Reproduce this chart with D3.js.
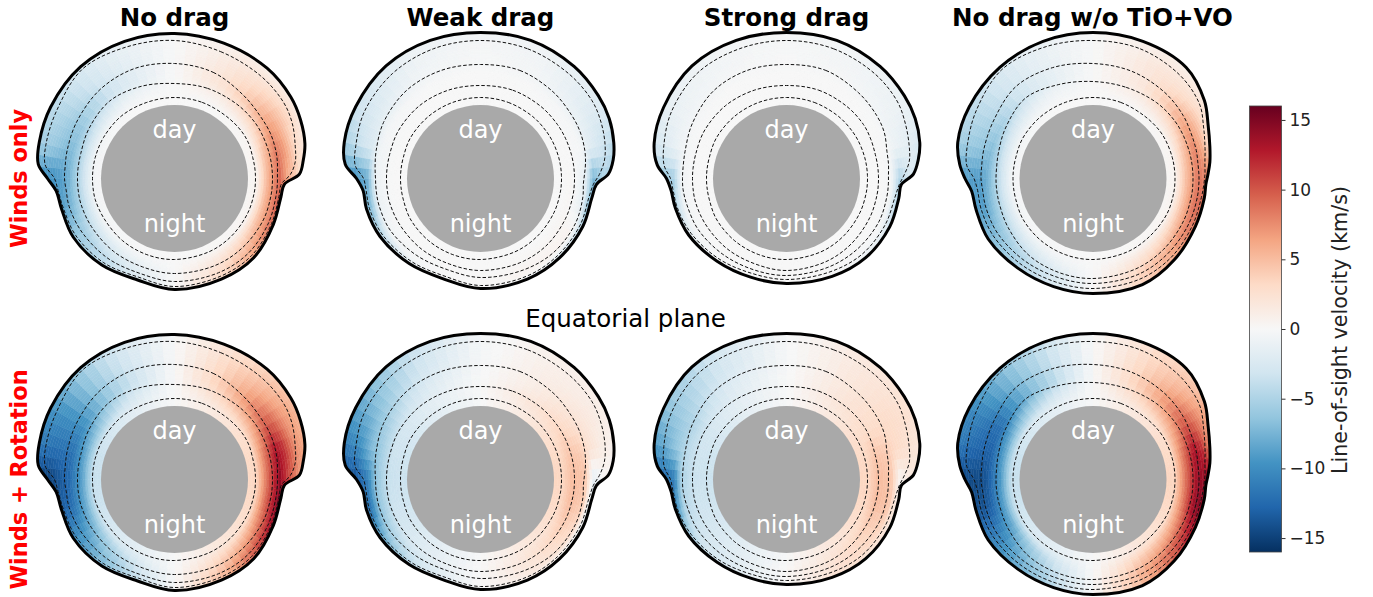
<!DOCTYPE html>
<html><head><meta charset="utf-8">
<script src="https://cdn.jsdelivr.net/npm/d3@7"></script>
<style>html,body{margin:0;padding:0;background:#fff}svg{display:block}text{font-family:"DejaVu Sans",sans-serif}</style>
</head><body><svg id="c" width="1373" height="597"></svg>
<script>
const colTitles=["No drag","Weak drag","Strong drag","No drag w/o TiO+VO"];
const rowTitles=["Winds only","Winds + Rotation"];
const middleTitle="Equatorial plane";
const colorLabel="Line-of-sight velocity (km/s)";
const colorTicks=[-15,-10,-5,0,5,10,15];
const rdbu=["#053061","#2166ac","#4393c3","#92c5de","#d1e5f0","#f7f7f7","#fddbc7","#f4a582","#d6604d","#b2182b","#67001f"];

// curve knots: degrees clockwise from the top of each panel
const curveAngles=[0,20,40,55,65,75,82,88,93,100,115,135,155,180,200,220,240,255,264,270,276,285,300,320,340];
// radial units: planet limb is 73.5
const planetRadius=73.5;
const outerNoDrag=[145,144,144,142,139,135,130,125,110,108,109,112,111,111,108,113,117,117,119,127,137,140,143,146,146];
const c4NoDrag=[138,135,134,133,130,125,122,116,107,106,107,109,108,108,105,110,114,115,117,120,130,133,136,143,140];
const c3NoDrag=[115,113,108,106,106,105,104,103,103,103,104,105,104,103,101,104,107,109,109,110,110,111,113,116,117];
const c2NoDrag=[95,96,97,98,98,98,98,98,98,98,98,97,96,95,94,95,96,97,97,97,97,97,99,101,98];
const c1NoDrag=[81,81,81,82,82,81,81,81,81,81,81,81,81,81,81,81,81,82,82,82,82,82,82,82,81];

const outerWeak=[146,147,146,144,142,138,134,128,116,113,113,112,111,110,107,111,116,118,118,124,136,141,144,147,147];
const c4Weak=[138,138,137,136,133,129,125,119,113,110,110,109,108,107,104,108,113,115,115,117,126,129,134,137,138];
const c3Weak=[114,115,113,111,110,108,106,104,103,104,105,104,101,99,97,100,104,105,105,105,106,108,112,115,115];
const c2Weak=[93,94,94,94,94,94,94,94,94,94,94,94,93,92,91,92,93,94,94,94,94,94,95,95,94];
const c1Weak=[81,81,81,81,81,81,81,81,81,81,81,81,81,81,81,81,81,80,80,80,80,80,81,81,81];

const outerStrong=[146,147,146,144,142,138,133,127,115,114,114,112,108,105,105,108,113,115,116,120,130,137,142,147,147];
const c4Strong=[138,138,137,135,131,127,124,118,113,110,109,107,103,101,101,105,110,113,114,116,123,127,133,138,138];
const c3Strong=[114,115,112,110,108,104,103,102,102,102,102,100,98,97,97,99,102,103,104,104,104,105,109,114,115];
const c2Strong=[93,94,94,94,93,92,92,92,92,92,92,92,92,92,91,92,93,94,94,94,94,94,95,95,94];
const c1Strong=[81,81,81,81,81,81,81,81,81,81,81,81,81,81,81,81,81,80,80,80,80,80,81,81,81];

const outerNoTio=[146,146,145,136,127,121,118,115,113,113,113,115,117,115,115,117,121,121,122,128,134,140,143,145,146];
const c4NoTio=[138,138,135,130,122,116,113,112,111,110,110,111,111,110,110,112,115,116,116,119,127,130,135,142,140];
const c3NoTio=[115,114,112,110,108,107,106,106,106,106,106,106,106,105,105,107,110,111,111,112,112,113,115,120,118];
const c2NoTio=[97,97,99,100,100,100,100,100,100,100,100,100,100,100,100,100,98,97,97,97,97,98,101,105,100];
const c1NoTio=[81,81,81,82,82,82,82,82,82,82,82,81,81,81,81,81,81,80,80,80,80,80,81,81,81];

// velocity readings (km/s): rows by radius, columns by angle
const velocityRadii=[73.5,82,92,105,113,125,148];
const velocityAngles=[0,30,60,75,90,105,120,150,180,210,240,255,270,285,300,330];
const vWindsNoDrag=[
[0,0,.2,.2,.2,.2,.2,.1,0,-.1,-.2,-.2,-.2,-.2,-.2,0],
[0,.1,.3,.4,.4,.4,.4,.2,0,-.2,-.4,-.5,-.5,-.5,-.4,-.1],
[0,1,3,4.5,5,5,4.5,2,0,-1.5,-3,-3.5,-3.5,-3.5,-3,-1],
[0,2.5,6.5,8.5,9.5,9.5,8,3.5,0,-3,-5.5,-7,-7.5,-7,-6,-2.5],
[0,2.5,6,7,6,9.5,8.5,3.5,0,-3,-6,-8.5,-9,-7,-6,-2.5],
[0,2,4,3,3,9,8,3,0,-3,-6.5,-10,-10,-6,-5,-2],
[0,.8,.3,0,0,8,8,3,0,-3,-6.5,-10,-10,-5,-4,-1.5]];
const vWindsWeak=[
[0,0,0,0,0,0,0,0,0,0,0,0,0,0,0,0],
[0,0,0,0,0,0,0,0,0,0,0,0,0,0,0,0],
[0,0,0,0,.2,.2,.3,.2,0,0,0,-.1,-.1,-.1,-.1,0],
[0,-.1,-.3,-.3,-1.5,-1.5,.5,.5,.1,-.2,-.5,-1,-1,-.6,-.4,-.1],
[-.1,-.4,-1.2,-1.8,-7.5,-7.5,-4,-.7,.1,-1.2,-4,-6.5,-8,-2.5,-1.5,-.4],
[-.2,-.5,-2,-3,-5,-8,-6,-2,-.3,-2,-5,-8,-10,-3.5,-2.5,-.7],
[-.3,-.8,-2.2,-5,-8,-8,-6,-2,-.5,-2,-5,-8,-10,-6,-3.5,-1]];
const vWindsStrong=[
[0,0,0,0,0,0,0,0,0,0,0,0,0,0,0,0],
[0,0,0,0,0,0,0,0,0,0,0,0,0,0,0,0],
[0,0,0,0,0,0,0,0,0,0,0,0,0,0,0,0],
[0,0,-.1,-.2,-.3,-.3,-.2,-.1,0,-.1,-.3,-.4,-.5,-.4,-.2,0],
[-.1,-.2,-.6,-1,-5,-4.5,-2,-.4,-.1,-.5,-1.8,-4,-5.5,-1,-.6,-.2],
[-.1,-.4,-.9,-1.5,-2.5,-5,-3,-.8,-.2,-.8,-2,-5,-6,-2,-1,-.4],
[-.2,-.5,-1.2,-3.2,-5,-5,-3,-.8,-.2,-.8,-2,-5,-6,-3.5,-1.5,-.5]];
const vWindsNoTio=[
[0,0,.2,.2,.2,.2,.2,.1,0,-.1,-.2,-.2,-.2,-.2,-.2,0],
[0,.1,.3,.4,.4,.4,.4,.2,0,-.2,-.4,-.5,-.5,-.5,-.4,-.1],
[0,1,2.8,4,4.5,4.5,4,2,0,-1.5,-3,-3.2,-3.2,-3,-2.5,-.8],
[0,2,6.5,8,8.5,9,8,4,0,-3.5,-6,-7,-7.5,-7,-5.5,-2],
[0,2,5.5,6,8,9,8,4,0,-3.5,-7,-9,-9,-6.5,-5,-2],
[0,2,3,1,8,9,8,4,0,-3.5,-7,-9,-9,-6,-4.5,-1.7],
[0,1,.3,0,8,9,8,4,0,-3.5,-7,-9,-9,-5,-4,-1.5]];
const vRotNoDrag=[
[0,1.6,2.7,3.1,3.2,3.1,2.7,1.6,0,-1.7,-3,-3.4,-3.5,-3.4,-3,-1.7],
[0,1.6,2.8,3.3,3.4,3.3,2.8,1.7,0,-1.8,-3.2,-3.6,-3.7,-3.6,-3.2,-1.8],
[0,3,6,8,8.5,8.5,7,3.5,0,-3.5,-7,-8,-8.5,-8,-7,-3],
[0,4.5,10,13.5,14.5,14.5,12,5.5,0,-5,-9.5,-12,-12.5,-12,-10,-4.5],
[0,4.5,9.5,12,11,15,13.5,5.5,0,-5,-10,-13,-13.5,-12,-10,-4.5],
[0,4,7,7.5,7,15,13.5,5.5,0,-5,-10.5,-14,-15,-12,-10,-4],
[0,2.5,4.5,4,4,14,13,5.5,0,-5,-10.5,-14,-15,-11,-9.5,-3.5]];
const vRotWeak=[
[-.1,1.4,2.7,3.2,3.4,3.2,2.7,1.6,0,-1.6,-2.9,-3.3,-3.4,-3.3,-2.9,-1.6],
[-.1,1.4,2.7,3.2,3.4,3.2,2.7,1.6,0,-1.6,-2.9,-3.3,-3.4,-3.3,-2.9,-1.6],
[0,1.8,3.5,4.5,5,5,4,2,.1,-1.6,-3,-3.4,-3.6,-3.4,-3,-1.6],
[-.1,1.2,2.8,4,4.5,4,3,1.7,.1,-2.5,-5.5,-6.5,-6.5,-6,-5,-2.2],
[-.2,1.1,2.2,2.5,-1.5,-2,-1.5,.8,0,-3,-8,-11.5,-11,-7,-6,-2.6],
[-.3,1,1.5,1.3,.2,-3,-3,0,0,-3,-9,-13,-14,-10,-7.5,-3.2],
[-.4,.7,.8,.2,-.5,-4,-4,0,0,-3,-9,-13,-14.5,-11.5,-9,-3.8]];
const vRotStrong=[
[-.1,1.5,2.8,3.2,3.4,3.3,2.8,1.7,0,-1.6,-2.9,-3.3,-3.4,-3.3,-2.9,-1.5],
[-.1,1.5,2.8,3.2,3.4,3.3,2.8,1.7,0,-1.6,-2.9,-3.3,-3.4,-3.3,-2.9,-1.5],
[-.1,1.8,3,4.5,5,5,4,2.2,.2,-1.7,-3,-3.3,-3.4,-3.3,-3,-1.6],
[-.1,1.7,3,4,4.5,4.5,3.5,2.5,.2,-2,-3.5,-4.5,-5,-4.5,-4.5,-2],
[-.2,1.6,3,3.2,.3,1,1.5,2,.1,-2,-5.5,-9.5,-11.5,-6,-5.2,-2.2],
[-.2,1.6,2.8,2.5,1.5,1,1.5,2,.1,-2,-6.5,-11,-13,-8,-6,-2.8],
[-.2,1.5,2.2,1.5,1.2,1,1.5,2,.1,-2,-6.5,-11,-13,-10,-7,-3]];
const vRotNoTio=[
[0,1.6,2.8,3.2,3.5,3.3,2.8,1.7,0,-1.7,-3,-3.5,-3.7,-3.5,-3,-1.7],
[0,1.6,2.8,3.2,3.5,3.3,2.8,1.7,0,-1.7,-3,-3.5,-3.7,-3.5,-3,-1.7],
[0,3,6,8,8.5,8,6.5,4,0,-4,-8,-8.5,-9,-8.5,-7.5,-3.5],
[0,4.5,10,13.5,14,14.5,11.5,6,0,-5.5,-10.5,-13,-13.5,-13,-12,-6],
[0,4.5,9.5,12,14,14.5,13,6,0,-6,-11,-14,-14.5,-13,-12,-6],
[0,4,7,6,14,14.5,13,6,0,-6,-11,-14,-14.5,-12.5,-11,-5.5],
[0,3,4,4,14,14.5,13,6,0,-6,-11,-14,-14.5,-10.5,-10,-5]];

const panelCenters=[174.5,480.5,786.5,1093];
const rowCenters=[178.5,479.5];
const contours=[
 [outerNoDrag,c4NoDrag,c3NoDrag,c2NoDrag,c1NoDrag],
 [outerWeak,c4Weak,c3Weak,c2Weak,c1Weak],
 [outerStrong,c4Strong,c3Strong,c2Strong,c1Strong],
 [outerNoTio,c4NoTio,c3NoTio,c2NoTio,c1NoTio]];
const velocity=[
 [vWindsNoDrag,vWindsWeak,vWindsStrong,vWindsNoTio],
 [vRotNoDrag,vRotWeak,vRotStrong,vRotNoTio]];

const svg=d3.select("#c");
const color=d3.scaleLinear().domain(d3.range(11).map(i=>-16+i*3.2)).range(rdbu).clamp(true);
const rad=d3.scaleLinear().domain([0,147]).range([0,147]);
const ang=d=>d*Math.PI/180;
const radial=d3.lineRadial().angle((d,i)=>ang(curveAngles[i])).radius(d=>rad(d)).curve(d3.curveCatmullRomClosed.alpha(0.5));
const arc=d3.arc();

// smooth shading between the velocity readings, on a 5 degree mesh
const wrapA=velocityAngles.concat(360);
const wedges=d3.range(72).map(i=>i*5);
const rings=d3.range(72,150,2.5);
function shade(table,th,r){
  const byRadius=table.map(row=>d3.scaleLinear().domain(wrapA).range(row.concat(row[0]))(th));
  return d3.scaleLinear().domain(velocityRadii).range(byRadius).clamp(true)(r);
}
rowCenters.forEach((cy,ri)=>panelCenters.forEach((cx,ci)=>{
  const g=svg.append("g").attr("transform",`translate(${cx},${cy})`);
  const [outer,...inner]=contours[ci];
  const id=`clip${ri}${ci}`;
  svg.append("clipPath").attr("id",id).append("path").attr("d",radial(outer));
  const cells=[];
  wedges.forEach(a=>rings.forEach(r=>cells.push({a,r,v:shade(velocity[ri][ci],a+2.5,r+1.25)})));
  g.append("g").attr("clip-path",`url(#${id})`).selectAll("path").data(cells).join("path")
    .attr("d",d=>arc({innerRadius:rad(d.r),outerRadius:rad(d.r+2.5),startAngle:ang(d.a),endAngle:ang(d.a+5)}))
    .attr("fill",d=>color(d.v)).attr("stroke",d=>color(d.v)).attr("stroke-width",0.5);
  g.append("circle").attr("r",rad(planetRadius)).attr("fill","#a9a9a9");
  inner.forEach(c=>g.append("path").attr("d",radial(c)).attr("fill","none").attr("stroke","#111").attr("stroke-width",1).attr("stroke-dasharray","3.5,2"));
  g.append("path").attr("d",radial(outer)).attr("fill","none").attr("stroke","#000").attr("stroke-width",3).attr("stroke-linejoin","round");
  g.append("text").text("day").attr("text-anchor","middle").attr("y",-41).attr("fill","#fff").attr("font-size",24);
  g.append("text").text("night").attr("text-anchor","middle").attr("y",53).attr("fill","#fff").attr("font-size",24);
}));

colTitles.forEach((t,i)=>svg.append("text").text(t).attr("x",[174.5,480.5,786.5,1092.5][i]).attr("y",26).attr("text-anchor","middle").attr("font-weight","bold").attr("font-size",24.5));
rowTitles.forEach((t,i)=>svg.append("text").text(t).attr("transform",`translate(27,${[178.5,479.5][i]}) rotate(-90)`).attr("text-anchor","middle").attr("font-weight","bold").attr("font-size",22.4).attr("fill","#f00"));
svg.append("text").text(middleTitle).attr("x",625.5).attr("y",326.5).attr("text-anchor","middle").attr("font-size",24.5);

// colour bar
const barY=d3.scaleLinear().domain([-16,16]).range([552,106]);
const grad=svg.append("defs").append("linearGradient").attr("id","cb").attr("x1",0).attr("x2",0).attr("y1",1).attr("y2",0);
rdbu.forEach((c,i)=>grad.append("stop").attr("offset",i/10).attr("stop-color",c));
svg.append("rect").attr("x",1249.5).attr("y",106).attr("width",32).attr("height",446).attr("fill","url(#cb)").attr("stroke","#444").attr("stroke-width",0.8);
const axis=d3.axisRight(barY).tickValues(colorTicks).tickSize(4).tickPadding(4).tickFormat(d=>d<0?"\u2212"+Math.abs(d):d);
const ag=svg.append("g").attr("transform","translate(1281.5,0)").call(axis);
ag.select(".domain").remove();
ag.selectAll("line").attr("stroke","#333");
ag.selectAll("text").attr("font-size",17).attr("font-family","DejaVu Sans").attr("fill","#222");
svg.append("text").text(colorLabel).attr("transform","translate(1347,330) rotate(-90)").attr("text-anchor","middle").attr("font-size",20.7).attr("fill","#222");
</script></body></html>
